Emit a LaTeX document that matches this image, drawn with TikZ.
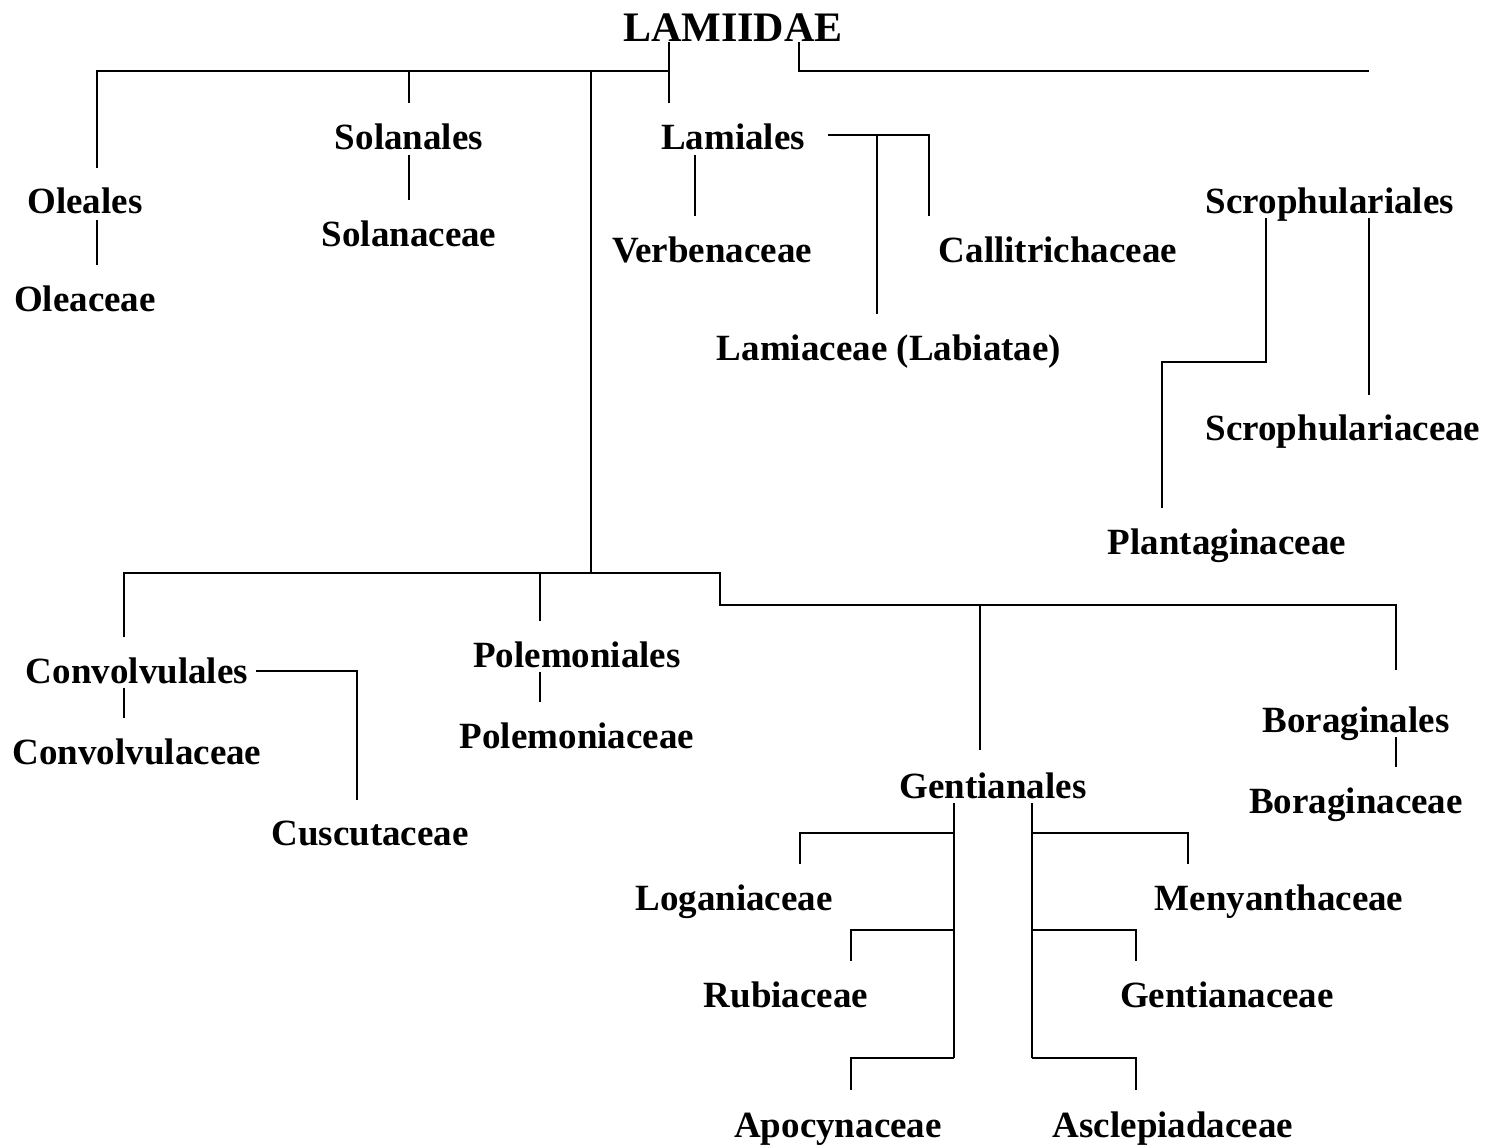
\documentclass[tikz,border=0pt]{standalone}
\usepackage{fontspec}
\setmainfont{Liberation Serif}
\begin{document}
\begin{tikzpicture}[x=1pt,y=-1pt,
  lbl/.style={font=\bfseries\fontsize{37}{40}\selectfont, inner sep=0pt, anchor=base},
  ttl/.style={font=\bfseries\fontsize{42}{46}\selectfont, inner sep=0pt, anchor=base},
  ln/.style={line width=2pt, line join=miter}]
\useasboundingbox (0,0) rectangle (1489,1146);
% labels
\node[ttl] (lam) at (733,41) {LAMIIDAE};
\node[lbl] (sol) at (409,149) {Solanales};
\node[lbl] (lml) at (733,149) {Lamiales};
\node[lbl] (ole) at (85,213) {Oleales};
\node[lbl] (scr) at (1330,213) {Scrophulariales};
\node[lbl] (solc) at (409,246) {Solanaceae};
\node[lbl] (ver) at (712,262) {Verbenaceae};
\node[lbl] (cal) at (1058,262) {Callitrichaceae};
\node[lbl] (olec) at (85,311) {Oleaceae};
\node[lbl] (lamc) at (889,360) {Lamiaceae (Labiatae)};
\node[lbl] (scrc) at (1343,440) {Scrophulariaceae};
\node[lbl] (pla) at (1227,554) {Plantaginaceae};
\node[lbl] (con) at (137,683) {Convolvulales};
\node[lbl] (pol) at (577,667) {Polemoniales};
\node[lbl] (conc) at (137,764) {Convolvulaceae};
\node[lbl] (polc) at (577,748) {Polemoniaceae};
\node[lbl] (cus) at (370,845) {Cuscutaceae};
\node[lbl] (bor) at (1356,732) {Boraginales};
\node[lbl] (gen) at (993,798) {Gentianales};
\node[lbl] (borc) at (1356,813) {Boraginaceae};
\node[lbl] (log) at (734,910) {Loganiaceae};
\node[lbl] (men) at (1279,910) {Menyanthaceae};
\node[lbl] (rub) at (786,1007) {Rubiaceae};
\node[lbl] (genc) at (1227,1007) {Gentianaceae};
\node[lbl] (apo) at (838,1137) {Apocynaceae};
\node[lbl] (asc) at (1173,1137) {Asclepiadaceae};
% junction coordinates
\coordinate (lamA) at (669,42);
\coordinate (lamB) at (799,42);
\coordinate (jTop) at (669,71);
\coordinate (jOle) at (97,71);
\coordinate (eOle) at (97,168);
\coordinate (jSol) at (409,71);
\coordinate (eSol) at (409,103);
\coordinate (jLow) at (591,71);
\coordinate (kLow) at (591,573);
\coordinate (eLml) at (669,103);
\coordinate (jRt) at (799,71);
\coordinate (eRt) at (1369,71);
\coordinate (sSol) at (409,155);
\coordinate (tSol) at (409,200);
\coordinate (sOle) at (97,220);
\coordinate (tOle) at (97,265);
\coordinate (sLml) at (828,135);
\coordinate (jLmc) at (877,135);
\coordinate (eLmc) at (877,314);
\coordinate (cCal) at (929,135);
\coordinate (eCal) at (929,216);
\coordinate (sVer) at (695,155);
\coordinate (eVer) at (695,216);
\coordinate (sScA) at (1266,218);
\coordinate (cScA) at (1266,362);
\coordinate (dScA) at (1162,362);
\coordinate (ePla) at (1162,508);
\coordinate (sScB) at (1369,218);
\coordinate (eScB) at (1369,395);
\coordinate (lL) at (124,573);
\coordinate (eCon) at (124,637);
\coordinate (jPol) at (540,573);
\coordinate (ePol) at (540,621);
\coordinate (lR) at (720,573);
\coordinate (lR2) at (720,605);
\coordinate (jGen) at (980,605);
\coordinate (eGen) at (980,750);
\coordinate (cBor) at (1396,605);
\coordinate (eBor) at (1396,670);
\coordinate (sConc) at (124,688);
\coordinate (eConc) at (124,718);
\coordinate (sCus) at (256,671);
\coordinate (cCus) at (357,671);
\coordinate (eCus) at (357,800);
\coordinate (sPolc) at (540,672);
\coordinate (ePolc) at (540,702);
\coordinate (sBorc) at (1396,737);
\coordinate (eBorc) at (1396,767);
\coordinate (gL) at (954,803);
\coordinate (gLb) at (954,1058);
\coordinate (gR) at (1032,803);
\coordinate (gRb) at (1032,1058);
\coordinate (jLog) at (954,833);
\coordinate (cLog) at (800,833);
\coordinate (eLog) at (800,864);
\coordinate (jRub) at (954,930);
\coordinate (cRub) at (851,930);
\coordinate (eRub) at (851,961);
\coordinate (cApo) at (851,1058);
\coordinate (eApo) at (851,1090);
\coordinate (jMen) at (1032,833);
\coordinate (cMen) at (1188,833);
\coordinate (eMen) at (1188,864);
\coordinate (jGnc) at (1032,930);
\coordinate (cGnc) at (1136,930);
\coordinate (eGnc) at (1136,961);
\coordinate (cAsc) at (1136,1058);
\coordinate (eAsc) at (1136,1090);
% connectors
\draw[ln] (eOle) -- (jOle) -- (jTop);
\draw[ln] (lamA) -- (eLml);
\draw[ln] (jSol) -- (eSol);
\draw[ln] (jLow) -- (kLow);
\draw[ln] (lamB) -- (jRt) -- (eRt);
\draw[ln] (sSol) -- (tSol);
\draw[ln] (sOle) -- (tOle);
\draw[ln] (sLml) -- (cCal) -- (eCal);
\draw[ln] (jLmc) -- (eLmc);
\draw[ln] (sVer) -- (eVer);
\draw[ln] (sScA) -- (cScA) -- (dScA) -- (ePla);
\draw[ln] (sScB) -- (eScB);
\draw[ln] (eCon) -- (lL) -- (lR) -- (lR2) -- (cBor) -- (eBor);
\draw[ln] (jPol) -- (ePol);
\draw[ln] (jGen) -- (eGen);
\draw[ln] (sConc) -- (eConc);
\draw[ln] (sCus) -- (cCus) -- (eCus);
\draw[ln] (sPolc) -- (ePolc);
\draw[ln] (sBorc) -- (eBorc);
\draw[ln] (gL) -- (gLb);
\draw[ln] (gR) -- (gRb);
\draw[ln] (jLog) -- (cLog) -- (eLog);
\draw[ln] (jRub) -- (cRub) -- (eRub);
\draw[ln] (gLb) -- (cApo) -- (eApo);
\draw[ln] (jMen) -- (cMen) -- (eMen);
\draw[ln] (jGnc) -- (cGnc) -- (eGnc);
\draw[ln] (gRb) -- (cAsc) -- (eAsc);
\end{tikzpicture}
\end{document}
